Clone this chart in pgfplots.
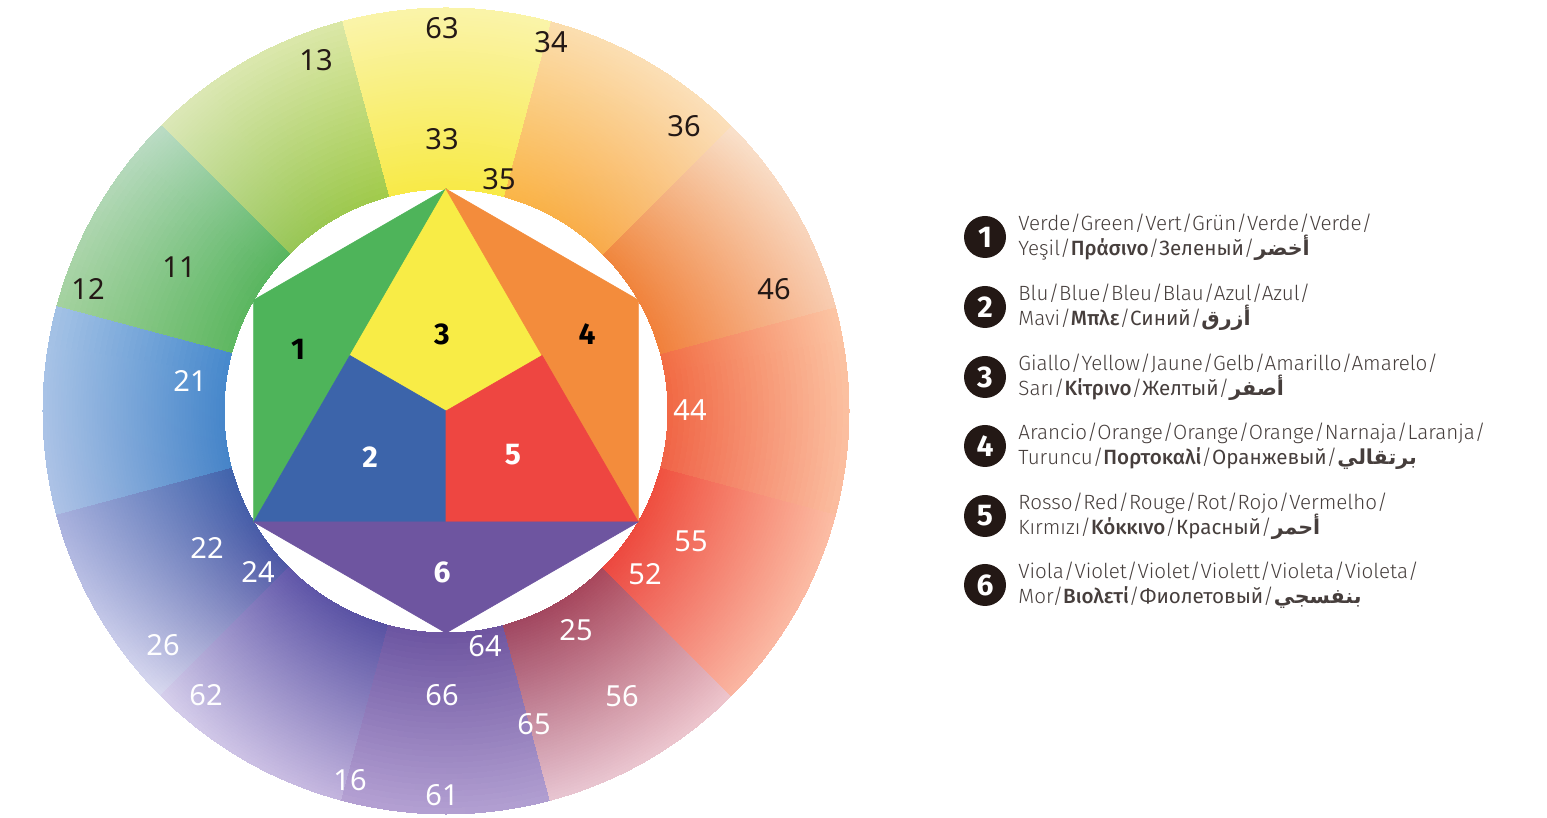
\documentclass[border=0pt]{standalone}
\usepackage{fontspec}
\usepackage{pgfplots}
\pgfplotsset{compat=1.18}
\usepgfplotslibrary{patchplots}
\TeXXeTstate=1

\newfontfamily\numfont{Noto Sans}
\newfontfamily\legreg{Fira Sans}
\IfFontExistsTF{Noto Sans Bold}{\newfontfamily\numbold{Noto Sans Bold}}{\newcommand\numbold{\legreg\bfseries}}
\IfFontExistsTF{Fira Sans Light}{\newfontfamily\leglight{Fira Sans Light}}{\newfontfamily\leglight{Fira Sans}}
\IfFontExistsTF{Fira Sans Medium}{\newfontfamily\legmed{Fira Sans Medium}}{\newcommand\legmed{\legreg\bfseries}}
\newfontfamily\arabicfont[Script=Arabic]{DejaVu Sans}

\newcommand\gr[1]{{\legmed #1}}
\newcommand\ru[1]{{\legreg #1}}
\newcommand\ar[1]{{\arabicfont\bfseries\beginR #1\endR}}

% ring sectors: inner/outer colour at the start (0) and end (1) angle
\definecolor{s0i0}{RGB}{240,100,72}  \definecolor{s0i1}{RGB}{242,110,68}
\definecolor{s0o0}{RGB}{251,190,160} \definecolor{s0o1}{RGB}{252,198,165}
\definecolor{s1i0}{RGB}{241,128,60}  \definecolor{s1i1}{RGB}{240,135,62}
\definecolor{s1o0}{RGB}{248,205,178} \definecolor{s1o1}{RGB}{249,226,205}
\definecolor{s2i0}{RGB}{248,170,75}  \definecolor{s2i1}{RGB}{250,182,72}
\definecolor{s2o0}{RGB}{251,224,188} \definecolor{s2o1}{RGB}{251,222,175}
\definecolor{s3i0}{RGB}{248,234,72}  \definecolor{s3i1}{RGB}{248,234,72}
\definecolor{s3o0}{RGB}{250,244,170} \definecolor{s3o1}{RGB}{250,244,170}
\definecolor{s4i0}{RGB}{162,203,76}  \definecolor{s4i1}{RGB}{152,198,88}
\definecolor{s4o0}{RGB}{220,232,168} \definecolor{s4o1}{RGB}{220,232,185}
\definecolor{s5i0}{RGB}{88,181,96}   \definecolor{s5i1}{RGB}{96,184,98}
\definecolor{s5o0}{RGB}{188,220,198} \definecolor{s5o1}{RGB}{165,210,160}
\definecolor{s6i0}{RGB}{72,138,205}  \definecolor{s6i1}{RGB}{70,132,200}
\definecolor{s6o0}{RGB}{165,195,230} \definecolor{s6o1}{RGB}{175,195,230}
\definecolor{s7i0}{RGB}{65,100,172}  \definecolor{s7i1}{RGB}{80,88,165}
\definecolor{s7o0}{RGB}{170,178,222} \definecolor{s7o1}{RGB}{218,218,240}
\definecolor{s8i0}{RGB}{98,88,170}   \definecolor{s8i1}{RGB}{88,82,162}
\definecolor{s8o0}{RGB}{215,208,236} \definecolor{s8o1}{RGB}{195,180,222}
\definecolor{s9i0}{RGB}{108,86,162}  \definecolor{s9i1}{RGB}{112,86,160}
\definecolor{s9o0}{RGB}{182,162,212} \definecolor{s9o1}{RGB}{178,160,210}
\definecolor{saI0}{RGB}{160,72,98}   \definecolor{saI1}{RGB}{170,72,92}
\definecolor{saO0}{RGB}{232,198,210} \definecolor{saO1}{RGB}{238,198,205}
\definecolor{sbI0}{RGB}{236,72,64}   \definecolor{sbI1}{RGB}{240,82,64}
\definecolor{sbO0}{RGB}{250,182,162} \definecolor{sbO1}{RGB}{252,190,165}

% inner hexagon
\definecolor{hgreen}{RGB}{78,180,90}
\definecolor{hyellow}{RGB}{248,236,70}
\definecolor{horange}{RGB}{243,140,60}
\definecolor{hblue}{RGB}{60,100,170}
\definecolor{hred}{RGB}{238,70,65}
\definecolor{hviolet}{RGB}{110,85,160}
\definecolor{ink}{RGB}{35,24,21}
\definecolor{legtxt}{RGB}{70,62,60}

\begin{document}
\begin{tikzpicture}[
  nb/.style={font=\numfont\fontsize{14.5bp}{14.5bp}\selectfont, text=ink},
  nw/.style={font=\numfont\fontsize{14.5bp}{14.5bp}\selectfont, text=white},
  ib/.style={font=\numbold\fontsize{15bp}{15bp}\selectfont, text=black},
  iw/.style={font=\numbold\fontsize{15bp}{15bp}\selectfont, text=white},
  bullet/.style={circle, fill=ink, minimum size=21bp, inner sep=0pt, text=white,
    font=\numbold\fontsize{15bp}{15bp}\selectfont},
  leg/.style={anchor=west, align=left, text=legtxt, inner sep=0pt,
    font=\leglight\fontsize{10.3bp}{12.5bp}\selectfont},
]
\begin{axis}[
  hide axis, scale only axis, clip=false,
  width=773.5bp, height=409bp,
  xmin=-446, xmax=1101, ymin=-407, ymax=411,
]
\path (rel axis cs:0,0) rectangle (rel axis cs:1,1);

% outer ring: one biquadratic patch per 30 degree sector (angle a, radius r)
\addplot[patch, patch type=biquadratic, shader=interp,
  mesh/color input=explicit, point meta=explicit symbolic]
  table[x expr={\thisrow{r}*cos(\thisrow{a})},
        y expr={\thisrow{r}*sin(\thisrow{a})}, meta=c] {
a r c
-15 222 color=s0i0
15 222 color=s0i1
15 403 color=s0o1
-15 403 color=s0o0
0 222 color=s0i0
15 312.5 color=s0i1
0 403 color=s0o0
-15 312.5 color=s0i0
0 312.5 color=s0i0
15 222 color=s1i0
45 222 color=s1i1
45 403 color=s1o1
15 403 color=s1o0
30 222 color=s1i0
45 312.5 color=s1i1
30 403 color=s1o0
15 312.5 color=s1i0
30 312.5 color=s1i0
45 222 color=s2i0
75 222 color=s2i1
75 403 color=s2o1
45 403 color=s2o0
60 222 color=s2i0
75 312.5 color=s2i1
60 403 color=s2o0
45 312.5 color=s2i0
60 312.5 color=s2i0
75 222 color=s3i0
105 222 color=s3i1
105 403 color=s3o1
75 403 color=s3o0
90 222 color=s3i0
105 312.5 color=s3i1
90 403 color=s3o0
75 312.5 color=s3i0
90 312.5 color=s3i0
105 222 color=s4i0
135 222 color=s4i1
135 403 color=s4o1
105 403 color=s4o0
120 222 color=s4i0
135 312.5 color=s4i1
120 403 color=s4o0
105 312.5 color=s4i0
120 312.5 color=s4i0
135 222 color=s5i0
165 222 color=s5i1
165 403 color=s5o1
135 403 color=s5o0
150 222 color=s5i0
165 312.5 color=s5i1
150 403 color=s5o0
135 312.5 color=s5i0
150 312.5 color=s5i0
165 222 color=s6i0
195 222 color=s6i1
195 403 color=s6o1
165 403 color=s6o0
180 222 color=s6i0
195 312.5 color=s6i1
180 403 color=s6o0
165 312.5 color=s6i0
180 312.5 color=s6i0
195 222 color=s7i0
225 222 color=s7i1
225 403 color=s7o1
195 403 color=s7o0
210 222 color=s7i0
225 312.5 color=s7i1
210 403 color=s7o0
195 312.5 color=s7i0
210 312.5 color=s7i0
225 222 color=s8i0
255 222 color=s8i1
255 403 color=s8o1
225 403 color=s8o0
240 222 color=s8i0
255 312.5 color=s8i1
240 403 color=s8o0
225 312.5 color=s8i0
240 312.5 color=s8i0
255 222 color=s9i0
285 222 color=s9i1
285 403 color=s9o1
255 403 color=s9o0
270 222 color=s9i0
285 312.5 color=s9i1
270 403 color=s9o0
255 312.5 color=s9i0
270 312.5 color=s9i0
285 222 color=saI0
315 222 color=saI1
315 403 color=saO1
285 403 color=saO0
300 222 color=saI0
315 312.5 color=saI1
300 403 color=saO0
285 312.5 color=saI0
300 312.5 color=saI0
315 222 color=sbI0
345 222 color=sbI1
345 403 color=sbO1
315 403 color=sbO0
330 222 color=sbI0
345 312.5 color=sbI1
330 403 color=sbO0
315 312.5 color=sbI0
330 312.5 color=sbI0
};

% inner hexagon, split into six regions
\addplot[fill=hgreen, draw=hgreen, line width=0.3pt]
  coordinates {(-192.3,111) (0,222) (-96.1,55.5) (-192.3,-111)} -- cycle;
\addplot[fill=hyellow, draw=hyellow, line width=0.3pt]
  coordinates {(0,222) (96.1,55.5) (0,0) (-96.1,55.5)} -- cycle;
\addplot[fill=horange, draw=horange, line width=0.3pt]
  coordinates {(0,222) (192.3,111) (192.3,-111) (96.1,55.5)} -- cycle;
\addplot[fill=hblue, draw=hblue, line width=0.3pt]
  coordinates {(-96.1,55.5) (0,0) (0,-111) (-192.3,-111)} -- cycle;
\addplot[fill=hred, draw=hred, line width=0.3pt]
  coordinates {(0,0) (96.1,55.5) (192.3,-111) (0,-111)} -- cycle;
\addplot[fill=hviolet, draw=hviolet, line width=0.3pt]
  coordinates {(-192.3,-111) (192.3,-111) (0,-222)} -- cycle;

% hexagon numbers
\node[ib] at (axis cs:-148,62) {1};
\node[ib] at (axis cs:-4,77) {3};
\node[ib] at (axis cs:141,77) {4};
\node[iw] at (axis cs:-76,-46) {2};
\node[iw] at (axis cs:67,-44) {5};
\node[iw] at (axis cs:-4,-161) {6};

% ring numbers
\node[nb] at (axis cs:-4,383) {63};
\node[nb] at (axis cs:105,369) {34};
\node[nb] at (axis cs:-130,351) {13};
\node[nb] at (axis cs:-4,272) {33};
\node[nb] at (axis cs:238,285) {36};
\node[nb] at (axis cs:53,232) {35};
\node[nb] at (axis cs:-267,144) {11};
\node[nb] at (axis cs:-358,122) {12};
\node[nb] at (axis cs:328,122) {46};
\node[nw] at (axis cs:-256,30) {21};
\node[nw] at (axis cs:244,1) {44};
\node[nw] at (axis cs:-239,-137) {22};
\node[nw] at (axis cs:-188,-161) {24};
\node[nw] at (axis cs:245,-130) {55};
\node[nw] at (axis cs:199,-163) {52};
\node[nw] at (axis cs:130,-219) {25};
\node[nw] at (axis cs:39,-235) {64};
\node[nw] at (axis cs:-283,-234) {26};
\node[nw] at (axis cs:-240,-284) {62};
\node[nw] at (axis cs:-4,-284) {66};
\node[nw] at (axis cs:176,-285) {56};
\node[nw] at (axis cs:88,-313) {65};
\node[nw] at (axis cs:-96,-369) {16};
\node[nw] at (axis cs:-4,-384) {61};

% legend
\node[bullet] at (axis cs:539,174) {1};
\node[leg] at (axis cs:572,174) {Verde/Green/Vert/Grün/Verde/Verde/\\Yeşil/\gr{Πράσινο}/\ru{Зеленый}/\ar{أخضر}};
\node[bullet] at (axis cs:539,104) {2};
\node[leg] at (axis cs:572,104) {Blu/Blue/Bleu/Blau/Azul/Azul/\\Mavi/\gr{Μπλε}/\ru{Синий}/\ar{أزرق}};
\node[bullet] at (axis cs:539,34) {3};
\node[leg] at (axis cs:572,34) {Giallo/Yellow/Jaune/Gelb/Amarillo/Amarelo/\\Sarı/\gr{Κίτρινο}/\ru{Желтый}/\ar{أصفر}};
\node[bullet] at (axis cs:539,-35) {4};
\node[leg] at (axis cs:572,-35) {Arancio/Orange/Orange/Orange/Narnaja/Laranja/\\Turuncu/\gr{Πορτοκαλί}/\ru{Оранжевый}/\ar{برتقالي}};
\node[bullet] at (axis cs:539,-105) {5};
\node[leg] at (axis cs:572,-105) {Rosso/Red/Rouge/Rot/Rojo/Vermelho/\\Kırmızı/\gr{Κόκκινο}/\ru{Красный}/\ar{أحمر}};
\node[bullet] at (axis cs:539,-174) {6};
\node[leg] at (axis cs:572,-174) {Viola/Violet/Violet/Violett/Violeta/Violeta/\\Mor/\gr{Βιολετί}/\ru{Фиолетовый}/\ar{بنفسجي}};
\end{axis}
\end{tikzpicture}
\end{document}
